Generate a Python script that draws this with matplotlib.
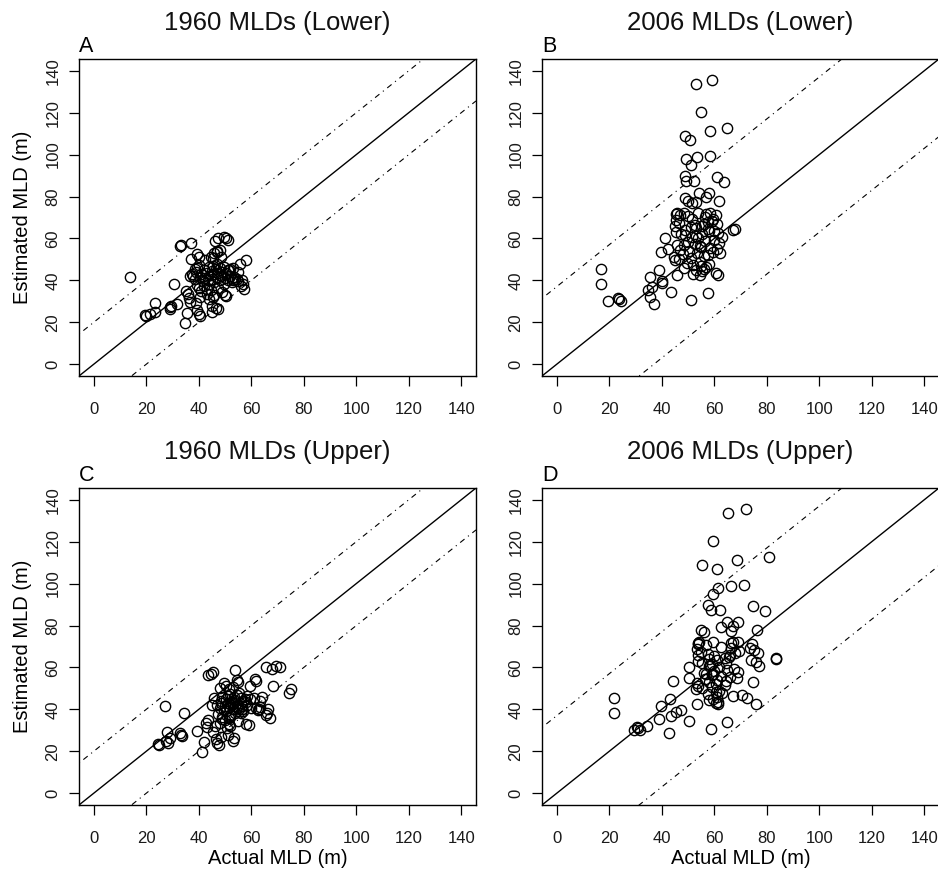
import matplotlib
matplotlib.use('Agg')
import matplotlib.pyplot as plt
import numpy as np

plt.rcParams['font.family'] = ['Liberation Sans', 'DejaVu Sans']

# 1960 profiles: estimated MLD, actual MLD from the lower and from the upper bound
est_1960 = [41.6, 22.9, 23.3, 24.0, 24.8, 29.3, 26.4, 27.1, 28.0, 28.8,
            38.4, 56.3, 56.8, 57.9, 19.5, 24.3, 35.0, 33.5, 31.8, 29.5,
            50.0, 52.5, 51.0, 23.0, 24.0, 26.0, 29.0, 32.0, 31.0, 32.0,
            25.0, 28.0, 26.5, 27.0, 59.0, 60.0, 60.5, 60.0, 59.5, 53.0,
            54.0, 54.5, 53.5, 48.0, 49.6, 38.5, 36.0, 40.0, 37.5, 40.0,
            40.5, 41.0, 33.0, 32.5, 45.0, 45.5, 46.5, 51.0, 51.0, 42.0,
            40.5, 44.0, 38.0, 36.5, 41.5, 43.0, 39.5, 45.0, 37.5, 41.0,
            43.5, 40.0, 46.5, 38.5, 42.5, 44.5, 40.5, 47.0, 43.0, 39.0,
            45.5, 41.5, 48.0, 43.5, 40.0, 46.0, 42.0, 44.0, 38.5, 41.0,
            43.5, 40.0, 45.0, 42.0, 39.0, 41.5, 40.5, 36.0, 35.0, 35.5,
            47.5, 49.5, 50.5, 45.5, 43.0, 42.0, 46.0, 36.5, 34.5, 33.0,
            33.5, 44.0, 46.0, 39.5]
lower_1960 = [13.9, 20.0, 19.6, 21.5, 23.2, 23.2, 29.1, 29.1, 29.5, 31.9,
              30.4, 32.7, 33.2, 37.0, 34.6, 35.4, 35.2, 35.8, 36.2, 36.5,
              37.0, 39.2, 40.2, 40.5, 40.0, 39.5, 39.0, 40.5, 44.0, 45.6,
              45.0, 45.2, 47.5, 46.5, 46.2, 47.5, 49.8, 50.5, 51.0, 46.0,
              47.0, 48.2, 46.8, 55.7, 58.0, 57.0, 57.2, 56.5, 56.0, 53.0,
              54.0, 52.5, 50.0, 50.5, 51.0, 52.0, 49.5, 44.5, 48.5, 38.0,
              38.5, 39.0, 39.5, 40.0, 40.5, 41.0, 41.5, 42.0, 42.0, 42.5,
              43.0, 43.5, 44.0, 44.0, 44.5, 45.0, 45.0, 45.5, 46.0, 46.0,
              46.5, 47.0, 47.0, 47.5, 48.0, 48.0, 48.5, 49.0, 49.5, 50.0,
              50.5, 51.0, 51.5, 52.0, 52.5, 53.5, 54.5, 43.0, 41.0, 44.5,
              40.0, 42.5, 45.5, 38.5, 37.5, 36.5, 39.5, 47.5, 49.0, 46.0,
              43.0, 55.0, 53.0, 55.0]
upper_1960 = [27.2, 24.7, 24.4, 28.2, 27.6, 27.8, 29.1, 33.7, 33.2, 32.7,
              34.4, 43.7, 44.6, 45.6, 41.1, 42.0, 43.5, 42.6, 43.0, 39.2,
              48.0, 49.5, 50.2, 47.8, 47.0, 46.5, 45.5, 46.3, 50.6, 52.0,
              52.9, 51.0, 53.5, 48.3, 53.8, 65.5, 69.5, 70.8, 68.0, 55.0,
              54.5, 61.4, 62.0, 74.4, 75.3, 66.0, 67.0, 66.5, 65.5, 63.0,
              62.0, 63.5, 58.0, 59.0, 59.5, 61.0, 58.5, 59.5, 68.1, 47.0,
              48.0, 48.5, 47.5, 49.0, 50.0, 51.0, 49.5, 50.5, 52.0, 51.5,
              52.5, 53.0, 51.0, 54.0, 52.0, 53.5, 55.0, 54.5, 53.0, 50.5,
              56.0, 54.0, 55.5, 52.5, 56.5, 53.5, 55.0, 57.0, 56.0, 54.5,
              58.0, 55.5, 57.5, 58.5, 57.0, 56.5, 60.0, 51.5, 50.0, 49.0,
              52.0, 51.5, 53.0, 46.0, 48.5, 45.0, 49.0, 52.0, 55.0, 51.5,
              48.0, 63.5, 64.0, 62.5]

# 2006 profiles
est_2006 = [133.9, 135.5, 120.3, 111.2, 112.5, 108.8, 106.9, 97.9, 95.2, 98.7,
            99.2, 89.6, 87.2, 87.5, 89.1, 86.7, 81.6, 81.9, 78.0, 79.2,
            78.0, 77.0, 77.5, 80.0, 64.0, 64.3, 45.3, 38.1, 30.1, 31.5,
            31.0, 30.2, 35.2, 36.8, 41.6, 28.8, 45.1, 53.6, 38.7, 39.5,
            60.0, 55.2, 34.7, 42.4, 30.7, 34.1, 42.7, 53.1, 32.2, 45.5,
            71.5, 72.0, 71.0, 69.0, 67.5, 66.0, 72.0, 70.5, 69.5, 72.0,
            71.5, 72.0, 71.0, 68.5, 67.0, 66.0, 65.0, 64.5, 63.5, 62.5,
            61.5, 60.5, 60.0, 59.0, 58.5, 57.5, 57.0, 56.0, 55.5, 54.5,
            54.0, 53.0, 52.5, 51.5, 50.5, 50.0, 49.0, 48.5, 47.5, 46.5,
            46.0, 45.0, 44.5, 43.5, 43.0, 42.5, 62.0, 63.0, 64.0, 65.5,
            66.5, 67.0, 68.0, 69.5, 70.0, 58.0, 59.5, 55.0, 53.5, 52.0,
            48.0, 47.0, 62.0, 61.0, 63.5, 60.5, 56.5, 57.0, 51.0, 49.5]
lower_2006 = [53.2, 59.1, 55.1, 58.5, 64.9, 48.8, 50.8, 49.1, 51.0, 53.6,
              58.5, 48.7, 49.1, 52.3, 61.0, 63.8, 54.2, 58.1, 61.9, 48.7,
              50.0, 51.5, 53.0, 56.8, 67.0, 68.0, 16.7, 16.7, 19.4, 23.2,
              23.8, 24.4, 34.6, 36.3, 35.4, 36.9, 38.8, 39.7, 40.0, 40.2,
              41.4, 42.3, 43.6, 45.9, 51.3, 57.7, 61.3, 62.3, 35.5, 56.0,
              45.5, 46.0, 47.0, 45.5, 46.5, 45.0, 48.5, 50.0, 51.5, 54.0,
              57.0, 58.5, 60.5, 59.0, 61.0, 55.5, 53.0, 57.5, 60.0, 61.5,
              49.0, 51.5, 54.0, 56.5, 50.0, 52.5, 48.5, 55.0, 58.5, 47.0,
              50.5, 53.5, 48.0, 56.0, 51.0, 46.5, 54.5, 49.5, 52.0, 57.0,
              48.5, 53.0, 55.5, 60.5, 52.0, 54.5, 47.5, 45.5, 49.0, 51.0,
              52.5, 56.0, 57.5, 59.5, 56.5, 62.0, 60.0, 61.0, 59.5, 57.5,
              58.0, 55.0, 55.5, 53.0, 58.0, 63.0, 54.5, 46.0, 44.5, 45.0]
upper_2006 = [65.1, 72.2, 59.6, 68.7, 80.9, 55.3, 60.9, 61.3, 59.6, 66.2,
              71.5, 57.7, 62.3, 58.7, 74.7, 79.2, 65.0, 69.0, 76.3, 62.6,
              55.0, 56.0, 66.5, 67.0, 83.5, 83.7, 21.8, 21.8, 29.5, 30.5,
              31.0, 31.8, 38.8, 43.7, 39.9, 42.7, 43.3, 44.4, 45.5, 47.2,
              50.5, 50.5, 50.4, 53.6, 58.7, 64.7, 76.0, 74.7, 34.4, 72.6,
              53.8, 54.2, 54.0, 53.5, 55.0, 54.0, 59.7, 57.0, 66.5, 67.0,
              66.5, 69.0, 74.5, 75.0, 76.5, 66.0, 65.5, 64.0, 74.0, 76.0,
              59.0, 58.0, 62.0, 65.0, 60.0, 56.0, 59.5, 62.5, 66.0, 56.5,
              61.0, 58.0, 53.5, 64.0, 59.0, 55.5, 62.0, 60.5, 57.5, 67.0,
              61.0, 59.5, 58.0, 61.5, 60.5, 61.5, 55.5, 54.0, 58.0, 60.0,
              57.5, 68.0, 69.5, 73.5, 62.5, 69.0, 67.5, 68.5, 64.5, 60.5,
              63.0, 70.5, 64.5, 58.5, 61.0, 77.0, 59.0, 57.0, 54.0, 53.0]

# half-width of the dot-dash band around the 1:1 line
band_1960 = 20
band_2006 = 37

titles = ['1960 MLDs (Lower)', '2006 MLDs (Lower)', '1960 MLDs (Upper)', '2006 MLDs (Upper)']
letters = ['A', 'B', 'C', 'D']
ticks = [0, 20, 40, 60, 80, 100, 120, 140]

W, H = 938, 876
fig = plt.figure(figsize=(W / 100, H / 100), dpi=100)

# axes boxes in pixels: left, top, width, height
boxes = [(79, 59, 397, 317), (542, 59, 397, 317),
         (79, 488, 397, 317), (542, 488, 397, 317)]

panels = [(lower_1960, est_1960, band_1960), (lower_2006, est_2006, band_2006),
          (upper_1960, est_1960, band_1960), (upper_2006, est_2006, band_2006)]

lim = (-5.6, 145.6)
xx = np.array(lim)

for i, (x, y, band) in enumerate(panels):
    l, t, w, h = boxes[i]
    ax = fig.add_axes([l / W, 1 - (t + h) / H, w / W, h / H])
    ax.set_xlim(lim)
    ax.set_ylim(lim)

    ax.plot(xx, xx, color='black', lw=1.0)
    ax.plot(xx, xx + band, color='black', lw=0.8, dashes=(1, 4, 5, 4))
    ax.plot(xx, xx - band, color='black', lw=0.8, dashes=(1, 4, 5, 4))
    ax.plot(x, y, linestyle='none', marker='o', markersize=7.4,
            markerfacecolor='none', markeredgecolor='black', markeredgewidth=1.0)

    ax.set_xticks(ticks)
    ax.set_yticks(ticks)
    ax.tick_params(direction='out', length=7.5, width=0.9, labelsize=12,
                   colors='black', labelcolor='#1a1a1a')
    ax.tick_params(axis='x', pad=11)
    ax.tick_params(axis='y', pad=6)
    for lab in ax.get_yticklabels():
        lab.set_rotation(90)
        lab.set_va('center')
    for s in ax.spines.values():
        s.set_linewidth(1.0)

    ax.set_title(titles[i], fontsize=18.5, pad=21, color='#111111')
    ax.text(0, 1.005, letters[i], transform=ax.transAxes, fontsize=15.5,
            ha='left', va='bottom')

    if i % 2 == 0:
        fig.text(22 / W, 1 - (t + h / 2) / H, 'Estimated MLD (m)', rotation=90,
                 ha='center', va='center', fontsize=14.5)
    if i >= 2:
        fig.text((l + w / 2) / W, 1 - 858 / H, 'Actual MLD (m)',
                 ha='center', va='center', fontsize=14.5)

fig.savefig('out.png', dpi=100)
